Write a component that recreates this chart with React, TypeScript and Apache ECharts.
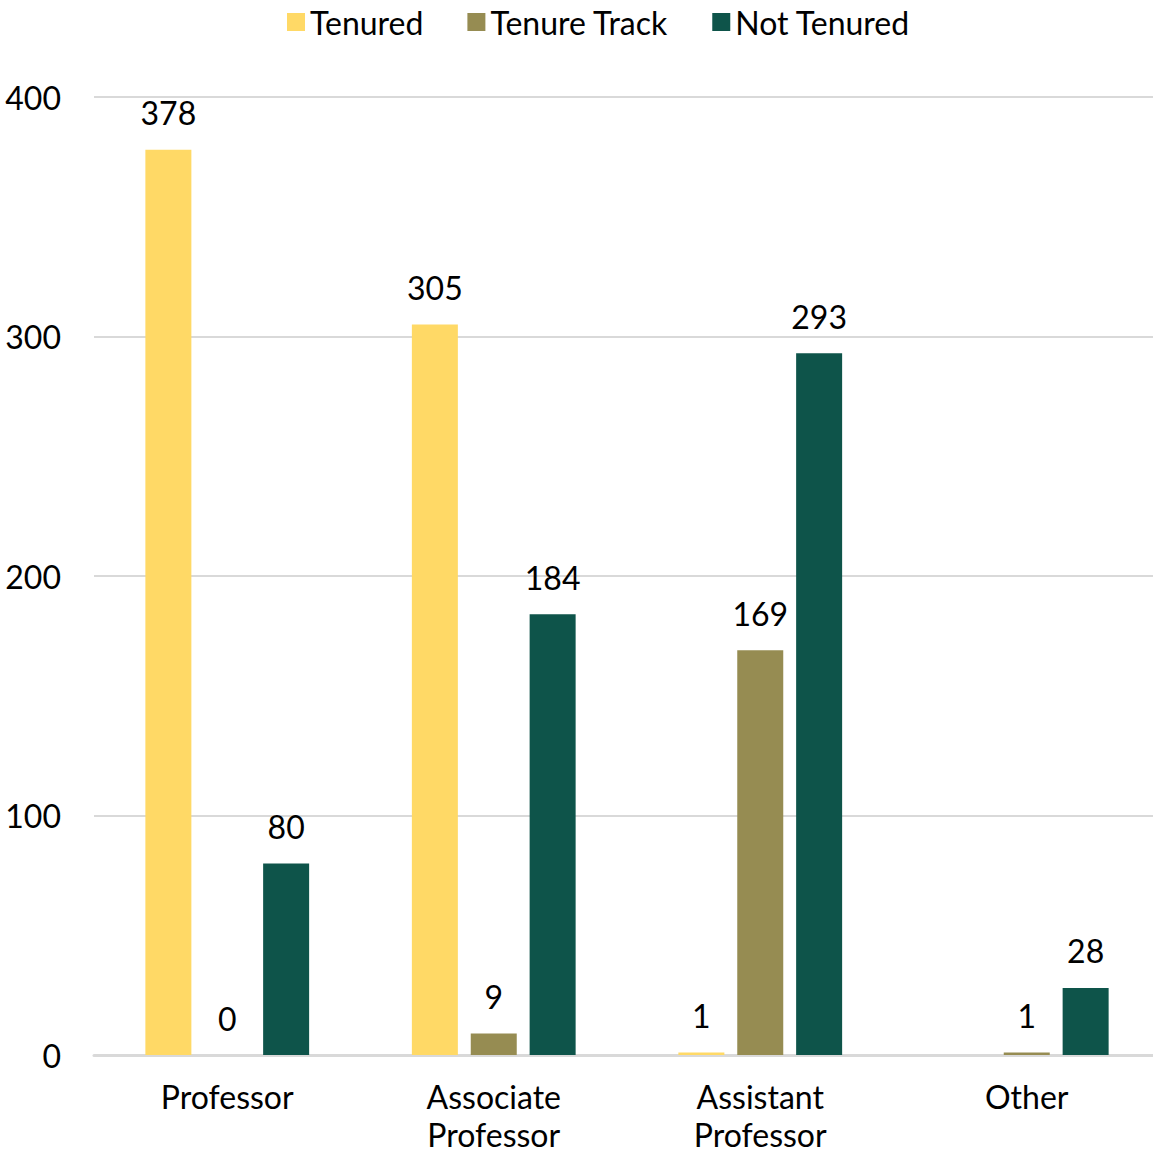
import React, { useEffect, useRef } from "react";
import * as echarts from "echarts";

const categories = ["Professor", "Associate\nProfessor", "Assistant\nProfessor", "Other"];
const tenured: (number | null)[] = [378, 305, 1, null];
const tenureTrack: (number | null)[] = [0, 9, 169, 1];
const notTenured: (number | null)[] = [80, 184, 293, 28];
const yTicks = { min: 0, max: 400, interval: 100 };

const FONT = "Lato";
const FS = 32;

export default function App() {
  const ref = useRef<HTMLDivElement>(null);
  useEffect(() => {
    document.body.style.margin = "0";
    const chart = echarts.init(ref.current!, undefined, { renderer: "svg" });
    const label = {
      show: true,
      position: "top" as const,
      distance: 21,
      color: "#000",
      fontFamily: FONT,
      fontSize: FS,
    };
    const mk = (name: string, data: (number | null)[], color: string) => ({
      name,
      type: "bar" as const,
      data,
      barWidth: 46,
      barGap: "28%",
      itemStyle: { color },
      label,
    });
    chart.setOption({
      animation: false,
      backgroundColor: "#fff",
      textStyle: { fontFamily: FONT },
      legend: {
        top: 1,
        left: 282,
        itemWidth: 18,
        itemHeight: 18,
        itemGap: 44,
        itemTextGap: 10,
        icon: "rect",
        textStyle: { fontFamily: FONT, fontSize: FS, color: "#000" },
        data: ["Tenured", "Tenure Track", "Not Tenured"],
      },
      grid: {
        left: 94,
        right: -7,
        top: 97,
        bottom: 99,
        containLabel: false,
        outerBoundsMode: "none",
      },
      xAxis: {
        type: "category",
        data: categories,
        axisLine: { show: true, lineStyle: { color: "#d9d9d9", width: 3 } },
        axisTick: { show: false },
        axisLabel: {
          color: "#000",
          fontFamily: FONT,
          fontSize: FS,
          lineHeight: 38,
          margin: 22,
          interval: 0,
        },
      },
      yAxis: {
        type: "value",
        min: yTicks.min,
        max: yTicks.max,
        interval: yTicks.interval,
        axisLine: { show: false },
        axisTick: { show: false },
        splitLine: { lineStyle: { color: "#d9d9d9", width: 2 } },
        axisLabel: { color: "#000", fontFamily: FONT, fontSize: FS, margin: 33 },
      },
      series: [
        mk("Tenured", tenured, "#FFD966"),
        mk("Tenure Track", tenureTrack, "#968C52"),
        mk("Not Tenured", notTenured, "#0E544A"),
      ],
    });
    return () => chart.dispose();
  }, []);
  return <div ref={ref} style={{ width: 1153, height: 1154 }} />;
}
